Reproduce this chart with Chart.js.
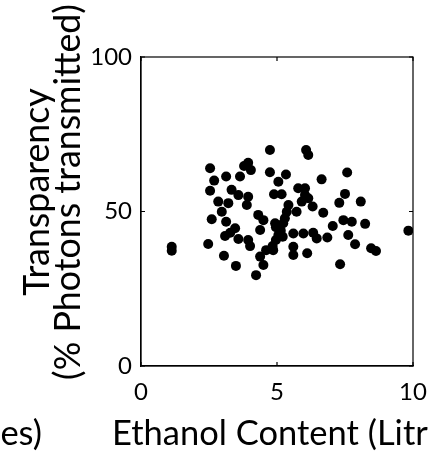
<!DOCTYPE html>
<html>
<head>
<meta charset="utf-8">
<script src="https://cdn.jsdelivr.net/npm/chart.js@4/dist/chart.umd.min.js"></script>
<style>
  html, body { margin: 0; padding: 0; background: #fff; }
  #wrap { width: 428px; height: 455px; }
</style>
</head>
<body>
<div id="wrap"><canvas id="scatter" width="428" height="455"></canvas></div>
<script>
// Values (ethanol in litres, transparency in %)
const ethanol = [
  1.13, 1.13,
  2.54, 2.69, 2.54, 3.13, 3.64, 3.79, 3.94, 4.04, 3.33, 3.58, 3.94, 3.89, 2.84, 3.21,
  2.97, 2.60, 3.13, 3.46, 3.28, 3.09, 3.58, 3.94, 4.01, 2.47, 3.05, 3.49, 4.23,
  4.74, 6.07, 6.15, 4.74, 5.33, 5.05, 6.64, 4.89, 5.17, 5.78, 6.03, 6.03, 6.15, 5.91,
  6.31, 5.42, 5.36, 5.72, 6.70, 4.31, 4.50, 5.29, 5.23, 4.93, 4.38, 4.96, 5.14, 5.05,
  5.21, 4.96, 4.84, 4.86, 5.60, 5.97, 6.33, 6.46, 6.85, 7.05, 5.60, 5.60, 6.11, 4.60,
  4.38, 4.50,
  7.58, 7.50, 7.29, 8.08, 7.44, 7.75, 8.24, 7.62, 7.87, 8.46, 8.64, 7.32, 9.83
];
const transparency = [
  38.6, 37.3,
  64.0, 60.0, 56.7, 61.3, 61.3, 64.7, 65.8, 63.4, 57.0, 55.3, 54.8, 52.1, 53.2, 52.7,
  49.9, 47.5, 46.7, 44.6, 43.1, 42.1, 41.1, 40.8, 38.8, 39.5, 35.7, 32.4, 29.4,
  69.9, 69.9, 68.3, 62.7, 62.0, 59.6, 60.4, 55.6, 55.6, 57.5, 57.5, 55.3, 54.3, 53.2,
  51.6, 52.1, 49.9, 49.9, 49.6, 48.9, 47.2, 47.8, 46.2, 46.2, 44.0, 44.9, 43.8, 42.4,
  41.8, 40.8, 38.8, 37.5, 42.9, 42.9, 43.1, 41.3, 41.6, 45.3, 38.6, 35.9, 36.5, 37.5,
  35.4, 32.7,
  62.6, 55.7, 52.8, 53.2, 47.2, 46.7, 46.0, 42.4, 39.4, 38.1, 37.2, 32.9, 43.8
];
const xTicks = [0, 5, 10];
const yTicks = [0, 50, 100];

const xTitle = "Ethanol Content (Litres)";
const yTitle = ["Transparency", "(% Photons transmitted)"];

const FONT = "Lato, 'Open Sans', sans-serif";

// font size that makes text span a given width
function fitSize(ctx, text, width) {
  ctx.font = "100px " + FONT;
  return 100 * width / ctx.measureText(text).width;
}

// box round the plot and small inward ticks on all four sides
const framePlugin = {
  id: "frame",
  afterDraw(chart) {
    const { ctx, chartArea: a, scales } = chart;
    const len = 4;
    ctx.save();
    ctx.strokeStyle = "#000";
    ctx.lineWidth = 1.2;
    ctx.strokeRect(a.left, a.top, a.right - a.left, a.bottom - a.top);
    ctx.beginPath();
    scales.x.ticks.forEach(t => {
      const px = scales.x.getPixelForValue(t.value);
      ctx.moveTo(px, a.bottom); ctx.lineTo(px, a.bottom - len);
      ctx.moveTo(px, a.top); ctx.lineTo(px, a.top + len);
    });
    scales.y.ticks.forEach(t => {
      const py = scales.y.getPixelForValue(t.value);
      ctx.moveTo(a.left, py); ctx.lineTo(a.left + len, py);
      ctx.moveTo(a.right, py); ctx.lineTo(a.right - len, py);
    });
    ctx.stroke();
    ctx.restore();
  }
};

// axis titles (the figure is cropped, so they run off the edges)
const titlePlugin = {
  id: "titles",
  afterDraw(chart) {
    const ctx = chart.ctx;
    ctx.save();
    ctx.fillStyle = "#000";
    ctx.textBaseline = "alphabetic";

    // x title, starts left of the axis and is cut by the right edge
    const xs = fitSize(ctx, "Ethanol Content (Litr", 316);
    ctx.font = xs + "px " + FONT;
    ctx.textAlign = "left";
    ctx.fillText(xTitle, 112, 445);
    // tail of the neighbouring panel's title
    ctx.textAlign = "right";
    ctx.fillText("es)", 42, 445);

    // y title, two rotated lines, same size
    const ys = (fitSize(ctx, yTitle[0], 212) + fitSize(ctx, yTitle[1], 368)) / 2;
    ctx.font = ys + "px " + FONT;
    ctx.textAlign = "center";
    [[yTitle[0], 49], [yTitle[1], 80]].forEach(([txt, bx]) => {
      ctx.save();
      ctx.translate(bx, 192);
      ctx.rotate(-Math.PI / 2);
      ctx.fillText(txt, 0, 0);
      ctx.restore();
    });
    ctx.restore();
  }
};

const points = ethanol.map((x, i) => ({ x, y: transparency[i] }));

new Chart(document.getElementById("scatter").getContext("2d"), {
  type: "scatter",
  data: {
    datasets: [{
      data: points,
      backgroundColor: "#000",
      borderWidth: 0,
      pointRadius: 5,
      pointHoverRadius: 5
    }]
  },
  options: {
    responsive: false,
    animation: false,
    devicePixelRatio: 1,
    layout: { padding: { top: 57, right: 15, left: 0, bottom: 0 } },
    plugins: { legend: { display: false }, tooltip: { enabled: false } },
    scales: {
      x: {
        type: "linear",
        min: 0, max: 10,
        afterBuildTicks: s => { s.ticks = xTicks.map(v => ({ value: v })); },
        afterFit: s => { s.height = 89; s.paddingLeft = 0; s.paddingRight = 0; },
        grid: { display: false, drawTicks: false },
        border: { color: "#000", width: 1.2 },
        ticks: { font: { family: FONT, size: 24 }, color: "#000", padding: 12, maxRotation: 0 }
      },
      y: {
        type: "linear",
        min: 0, max: 100,
        afterBuildTicks: s => { s.ticks = yTicks.map(v => ({ value: v })); },
        afterFit: s => { s.width = 141; s.paddingTop = 0; s.paddingBottom = 0; },
        grid: { display: false, drawTicks: false },
        border: { color: "#000", width: 1.2 },
        ticks: { font: { family: FONT, size: 24 }, color: "#000", padding: 9 }
      }
    }
  },
  plugins: [framePlugin, titlePlugin]
});
</script>
</body>
</html>
